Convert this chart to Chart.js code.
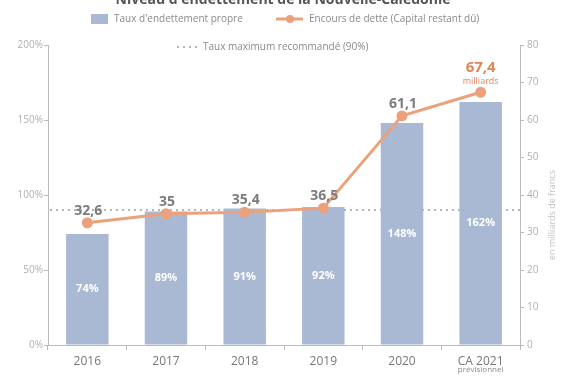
<!DOCTYPE html>
<html>
<head>
<meta charset="utf-8">
<script src="https://cdn.jsdelivr.net/npm/chart.js@4.4.1/dist/chart.umd.min.js"></script>
<style>
  html, body { margin: 0; padding: 0; background: #fff; }
  #wrap { width: 565px; height: 377px; }
</style>
</head>
<body>
<div id="wrap"><canvas id="debtChart" width="565" height="377"></canvas></div>
<script>
// --- données ---
const years = ['2016', '2017', '2018', '2019', '2020', 'CA 2021'];
const debtRatio = [74, 89, 91, 92, 148, 162];          // Taux d'endettement propre (%)
const debtStock = [32.6, 35, 35.4, 36.5, 61.1, 67.4];  // Encours de dette (milliards)
const recommendedMax = 90;                              // Taux maximum recommandé (%)
const leftTicks = [0, 50, 100, 150, 200];
const rightTicks = [0, 10, 20, 30, 40, 50, 60, 70, 80];

const FONT = "'Open Sans', 'Noto Sans', sans-serif";
const BAR_COLOR = '#a9b9d3';
const LINE_COLOR = '#eba27c';
const GREY_TXT = '#8a8a8a';

function frNum(v) {
    return String(v).replace('.', ',');
}

// titre (coupé en haut comme l'original) + légende dessinés à la main
const headerPlugin = {
    id: 'header',
    afterDraw(chart) {
        const ctx = chart.ctx;
        ctx.save();
        ctx.fillStyle = '#555';
        ctx.font = 'bold 14px ' + FONT;
        ctx.textAlign = 'center';
        ctx.textBaseline = 'alphabetic';
        ctx.fillText("Niveau d'endettement de la Nouvelle-Calédonie", 283, 4);

        ctx.font = '10px ' + FONT;
        ctx.textAlign = 'left';
        ctx.textBaseline = 'middle';
        // barres
        ctx.fillStyle = BAR_COLOR;
        ctx.fillRect(91, 14, 17, 10);
        ctx.fillStyle = GREY_TXT;
        ctx.fillText("Taux d'endettement propre", 114, 19);
        // ligne
        ctx.strokeStyle = LINE_COLOR;
        ctx.lineWidth = 3;
        ctx.beginPath();
        ctx.moveTo(276, 19); ctx.lineTo(303, 19);
        ctx.stroke();
        ctx.fillStyle = LINE_COLOR;
        ctx.beginPath();
        ctx.arc(290, 19, 4, 0, Math.PI * 2);
        ctx.fill();
        ctx.fillStyle = GREY_TXT;
        ctx.fillText('Encours de dette (Capital restant dû)', 309, 19);
        // pointillés
        ctx.strokeStyle = '#b5b5b5';
        ctx.lineWidth = 2;
        ctx.setLineDash([2, 4]);
        ctx.beginPath();
        ctx.moveTo(177, 47); ctx.lineTo(198, 47);
        ctx.stroke();
        ctx.setLineDash([]);
        ctx.fillText('Taux maximum recommandé (90%)', 203, 47);

        // titre de l'axe droit, lu de bas en haut
        const area = chart.chartArea;
        ctx.translate(552, (area.top + area.bottom) / 2 + 20);
        ctx.rotate(-Math.PI / 2);
        ctx.textAlign = 'center';
        ctx.fillStyle = '#c2c2c2';
        ctx.font = '9px ' + FONT;
        ctx.fillText('en milliards de francs', 0, 0);
        ctx.restore();
    }
};

// ligne horizontale du taux max recommandé
const thresholdPlugin = {
    id: 'threshold',
    beforeDatasetsDraw(chart) {
        const ctx = chart.ctx;
        const area = chart.chartArea;
        const y = chart.scales.y.getPixelForValue(recommendedMax);
        ctx.save();
        ctx.strokeStyle = '#b5b5b5';
        ctx.lineWidth = 2;
        ctx.setLineDash([2, 4]);
        ctx.beginPath();
        ctx.moveTo(area.left + 2, y);
        ctx.lineTo(area.right, y);
        ctx.stroke();
        ctx.restore();
    }
};

// étiquettes des valeurs
const valueLabels = {
    id: 'valueLabels',
    afterDatasetsDraw(chart) {
        const ctx = chart.ctx;
        ctx.save();
        ctx.textAlign = 'center';

        // % blancs dans les barres
        const bars = chart.getDatasetMeta(0).data;
        ctx.fillStyle = '#fff';
        ctx.font = 'bold 11px ' + FONT;
        ctx.textBaseline = 'middle';
        bars.forEach((bar, i) => {
            const mid = (bar.y + bar.base) / 2;
            ctx.fillText(debtRatio[i] + '%', bar.x, mid);
        });

        // valeurs de l'encours
        const pts = chart.getDatasetMeta(1).data;
        ctx.textBaseline = 'alphabetic';
        pts.forEach((pt, i) => {
            if (i === pts.length - 1) {
                ctx.fillStyle = '#e0855a';
                ctx.font = 'bold 15px ' + FONT;
                ctx.fillText(frNum(debtStock[i]), pt.x, pt.y - 20);
                ctx.font = '9px ' + FONT;
                ctx.fillText('milliards', pt.x, pt.y - 8);
            } else {
                ctx.fillStyle = '#7c7c7c';
                ctx.font = 'bold 14px ' + FONT;
                ctx.fillText(frNum(debtStock[i]), pt.x + 1, pt.y - 8);
            }
        });

        // sous-titre "prévisionnel"
        const xs = chart.scales.x;
        ctx.fillStyle = GREY_TXT;
        ctx.font = '8px ' + FONT;
        ctx.fillText('prévisionnel', xs.getPixelForValue(years.length - 1), 372);
        ctx.restore();
    }
};

const ctx = document.getElementById('debtChart');
new Chart(ctx, {
    data: {
        labels: years,
        datasets: [
            {
                type: 'bar',
                label: "Taux d'endettement propre",
                data: debtRatio,
                backgroundColor: BAR_COLOR,
                yAxisID: 'y',
                barPercentage: 0.54,
                categoryPercentage: 1,
                order: 2
            },
            {
                type: 'line',
                label: 'Encours de dette (Capital restant dû)',
                data: debtStock,
                borderColor: LINE_COLOR,
                backgroundColor: LINE_COLOR,
                borderWidth: 3,
                pointRadius: 4,
                pointHoverRadius: 4,
                tension: 0,
                yAxisID: 'y1',
                order: 1
            }
        ]
    },
    options: {
        responsive: false,
        animation: false,
        layout: { padding: { top: 45, bottom: 0, left: 0, right: 0 } },
        plugins: {
            legend: { display: false },
            tooltip: { enabled: false },
            title: { display: false }
        },
        scales: {
            x: {
                grid: { offset: true, drawOnChartArea: false, tickLength: 5, color: '#bbb' },
                border: { color: '#bbb' },
                ticks: { color: '#777', font: { family: FONT, size: 12 }, padding: 4 },
                afterFit(scale) { scale.height = 32; }
            },
            y: {
                position: 'left',
                min: 0, max: 200,
                afterBuildTicks(scale) { scale.ticks = leftTicks.map(v => ({ value: v })); },
                grid: { drawOnChartArea: false, tickLength: 4, color: '#bbb' },
                border: { color: '#bbb' },
                ticks: {
                    color: '#b0b0b0',
                    font: { family: FONT, size: 10 },
                    padding: 1,
                    callback: v => v + '%'
                },
                afterFit(scale) { scale.width = 48; }
            },
            y1: {
                position: 'right',
                min: 0, max: 80,
                afterBuildTicks(scale) { scale.ticks = rightTicks.map(v => ({ value: v })); },
                grid: { drawOnChartArea: false, tickLength: 4, color: '#bbb' },
                border: { color: '#bbb' },
                ticks: { color: '#b0b0b0', font: { family: FONT, size: 10 }, padding: 3 },
                afterFit(scale) { scale.width = 45; }
            }
        }
    },
    plugins: [headerPlugin, thresholdPlugin, valueLabels]
});
</script>
</body>
</html>
